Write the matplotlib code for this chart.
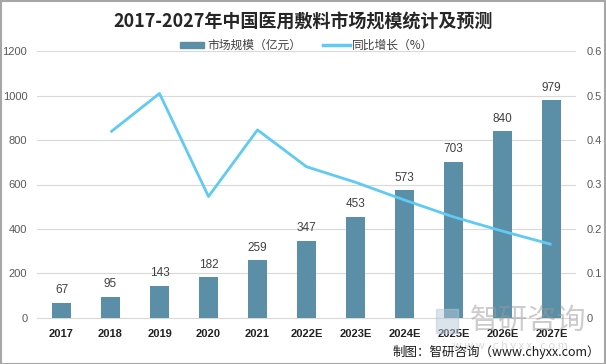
import matplotlib
matplotlib.use("Agg")
import matplotlib.pyplot as plt
from matplotlib.patches import Rectangle
from matplotlib.lines import Line2D

plt.rcParams['font.family'] = ['Noto Sans CJK SC', 'DejaVu Sans']

years = ["2017", "2018", "2019", "2020", "2021", "2022E", "2023E", "2024E", "2025E", "2026E", "2027E"]
market = [67, 95, 143, 182, 259, 347, 453, 573, 703, 840, 979]
growth = [None, 0.418, 0.505, 0.273, 0.423, 0.340, 0.305, 0.265, 0.227, 0.195, 0.165]
left_ticks = [0, 200, 400, 600, 800, 1000, 1200]
right_ticks = [0, 0.1, 0.2, 0.3, 0.4, 0.5, 0.6]
right_labels = ["0", "0.1", "0.2", "0.3", "0.4", "0.5", "0.6"]

NUM = ['Liberation Sans', 'DejaVu Sans']

W, H = 606, 364
fig = plt.figure(figsize=(W/100, H/100), dpi=100)
ax = fig.add_axes([37/W, 1-317.7/H, (576-37)/W, (317.7-51.3)/H])
ax2 = ax.twinx()

bar_color = '#5b8fa7'
line_color = '#5fcaf2'
x = list(range(len(years)))
ax.bar(x, market, width=0.39, color=bar_color, zorder=3)
for xi, v in zip(x, market):
    ax.text(xi, v + 30, str(v), ha='center', va='bottom', fontsize=8.5, color='#404040',
            family=NUM)

gx = [xi for xi, g in zip(x, growth) if g is not None]
gy = [g for g in growth if g is not None]
ax2.plot(gx, gy, color=line_color, lw=2.0, zorder=4, solid_capstyle='butt')

ax.set_xlim(-0.5, len(years) - 0.5)
ax.set_ylim(0, 1200)
ax2.set_ylim(0, 0.6)
ax.set_yticks(left_ticks)
ax.set_yticklabels([str(t) for t in left_ticks], fontsize=8, color='#595959', family=NUM)
ax2.set_yticks(right_ticks)
ax2.set_yticklabels(right_labels, fontsize=8, color='#595959', family=NUM)
ax.set_xticks(x)
ax.set_xticklabels(years, fontsize=8, fontweight='bold', color='#222222', family=NUM)
ax.yaxis.grid(True, color='#d9d9d9', lw=0.8, zorder=0)
ax.set_axisbelow(True)
for a in (ax, ax2):
    for s in a.spines.values():
        s.set_visible(False)
    a.tick_params(length=0)
ax.spines['bottom'].set_visible(True)
ax.spines['bottom'].set_color('#d9d9d9')
ax.tick_params(axis='x', pad=8)
ax.tick_params(axis='y', pad=7)
ax2.tick_params(axis='y', pad=8)
ax2.set_zorder(ax.get_zorder() + 1)
ax2.patch.set_visible(False)

# Title
fig.text(303/W, 1-22/H, "2017-2027年中国医用敷料市场规模统计及预测", ha='center', va='center',
         fontsize=13, fontweight='bold', color='#262626')

# Legend
fig.patches.append(Rectangle((180/W, 1-48/H), 24/W, 6/H, transform=fig.transFigure,
                             color=bar_color))
fig.text(207/W, 1-45/H, "市场规模（亿元）", ha='left', va='center', fontsize=8.5, color='#404040')
fig.lines.append(Line2D([323/W, 350/W], [1-45/H, 1-45/H], transform=fig.transFigure,
                        color=line_color, lw=2.5))
fig.text(352/W, 1-45/H, "同比增长（%）", ha='left', va='center', fontsize=8.5, color='#404040')

# Watermark
fig.text(528/W, 1-321/H, "智研咨询", ha='center', va='center', fontsize=21, color='#9a9a9a',
         alpha=0.5, zorder=1)
fig.text(510/W, 1-346/H, "w w w . c h y x x . c o m", ha='center', va='center', fontsize=8,
         color='#c0c0c0', alpha=0.6, zorder=1)
fig.patches.append(Rectangle((436/W, 1-333/H), 22/W, 24/H, transform=fig.transFigure,
                             color='#b8c8d8', alpha=0.5, zorder=1))

# Source
fig.text(600/W, 1-352/H, "制图：智研咨询（www.chyxx.com）", ha='right', va='center',
         fontsize=9, color='#1a1a1a', zorder=5)

# Border
fig.patches.append(Rectangle((0.5/W, 0.5/H), (W-1.5)/W, (H-1.5)/H, transform=fig.transFigure,
                             fill=False, edgecolor='#a6a6a6', lw=1.5))

fig.savefig("out.png", dpi=100)
